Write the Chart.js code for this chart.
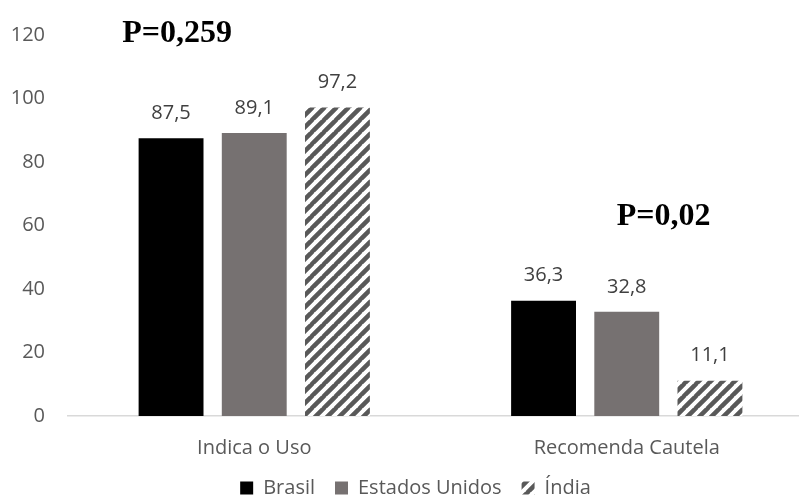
<!DOCTYPE html>
<html>
<head>
<meta charset="utf-8">
<script src="https://cdn.jsdelivr.net/npm/chart.js@4"></script>
<style>
  html, body { margin: 0; padding: 0; background: #fff; overflow: hidden; }
  #wrap { width: 830px; height: 502px; }
</style>
</head>
<body>
<div id="wrap"><canvas id="grafico" width="830" height="502"></canvas></div>
<script>
const categorias = ['Indica o Uso', 'Recomenda Cautela'];
const brasil = [87.5, 36.3];
const estadosUnidos = [89.1, 32.8];
const india = [97.2, 11.1];
const valoresP = ['P=0,259', 'P=0,02'];

// listras diagonais para a série Índia
function listras() {
  const t = 12;
  const c = document.createElement('canvas');
  c.width = t; c.height = t;
  const g = c.getContext('2d');
  g.fillStyle = '#ffffff';
  g.fillRect(0, 0, t, t);
  g.strokeStyle = '#595959';
  g.lineWidth = 4.5;
  g.beginPath();
  for (let k = -1; k <= 1; k++) {
    g.moveTo(k * t - 1, t + 1);
    g.lineTo(k * t + t + 1, -1);
  }
  g.stroke();
  return g.createPattern(c, 'repeat');
}

const fonte = '"Open Sans", "Noto Sans", sans-serif';

// rótulos de valor acima das barras, com vírgula decimal
const rotulos = {
  id: 'rotulos',
  afterDatasetsDraw(chart) {
    const ctx = chart.ctx;
    ctx.save();
    ctx.font = '20px ' + fonte;
    ctx.fillStyle = '#404040';
    ctx.textAlign = 'center';
    ctx.textBaseline = 'middle';
    chart.data.datasets.forEach((ds, i) => {
      chart.getDatasetMeta(i).data.forEach((bar, j) => {
        ctx.fillText(ds.data[j].toFixed(1).replace('.', ','), bar.x, bar.y - 25);
      });
    });
    ctx.restore();
  }
};

// valores de P sobre cada grupo
const anotacoes = {
  id: 'anotacoes',
  afterDraw(chart) {
    const ctx = chart.ctx;
    const x = chart.scales.x;
    const y = chart.scales.y;
    ctx.save();
    ctx.font = 'bold 32px "Liberation Serif", "Times New Roman", serif';
    ctx.fillStyle = '#000';
    ctx.textAlign = 'left';
    ctx.textBaseline = 'alphabetic';
    ctx.fillText(valoresP[0], x.getPixelForValue(0) - 132, y.getPixelForValue(117.8));
    ctx.fillText(valoresP[1], x.getPixelForValue(1) - 10, y.getPixelForValue(60.3));
    ctx.restore();
  }
};

// legenda um pouco mais à direita
const legendaDeslocada = {
  id: 'legendaDeslocada',
  afterLayout(chart) {
    chart.legend.left += 18;
  }
};

new Chart(document.getElementById('grafico'), {
  type: 'bar',
  data: {
    labels: categorias,
    datasets: [
      { label: 'Brasil', data: brasil, backgroundColor: '#000000' },
      { label: 'Estados Unidos', data: estadosUnidos, backgroundColor: '#767171' },
      { label: 'Índia', data: india, backgroundColor: listras() }
    ]
  },
  options: {
    responsive: false,
    animation: false,
    categoryPercentage: 0.67,
    barPercentage: 0.78,
    layout: { padding: { top: 32, right: 17, left: 0, bottom: -6 } },
    plugins: {
      legend: {
        position: 'bottom',
        labels: {
          boxWidth: 13,
          boxHeight: 13,
          padding: 20,
          color: '#595959',
          font: { family: fonte, size: 20 }
        }
      },
      tooltip: { enabled: false }
    },
    scales: {
      x: {
        grid: { display: false, drawTicks: false },
        border: { color: '#d9d9d9', width: 1.5 },
        ticks: { color: '#595959', padding: 20, font: { family: fonte, size: 20 } },
        afterFit(scale) { scale.height = 42; }
      },
      y: {
        min: 0,
        max: 120,
        grid: { display: false, drawTicks: false },
        border: { display: false },
        ticks: {
          stepSize: 20,
          color: '#595959',
          padding: 23,
          font: { family: fonte, size: 20 }
        },
        afterFit(scale) { scale.width = 68; }
      }
    }
  },
  plugins: [rotulos, anotacoes, legendaDeslocada]
});
</script>
</body>
</html>
